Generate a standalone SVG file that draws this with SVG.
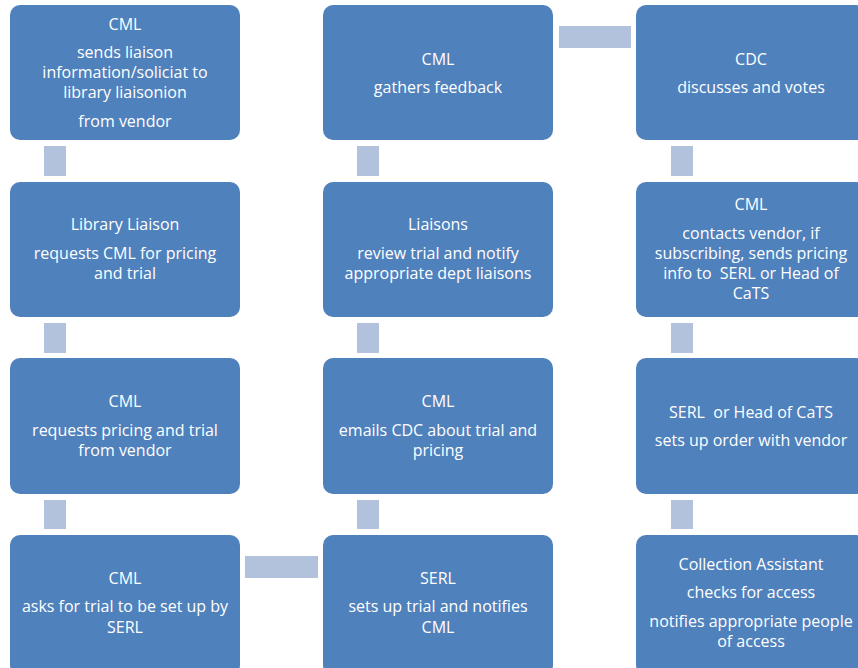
<svg xmlns="http://www.w3.org/2000/svg" width="858" height="668" viewBox="0 0 858 668">
<style>
.box{fill:#4F81BD;}
.con{fill:#B3C2DC;}
text{font-family:"Open Sans","Liberation Sans",sans-serif;font-size:16px;fill:#FFFFFF;text-anchor:middle;}
</style>
<rect width="858" height="668" fill="#FFFFFF"/>
<g id="connectors">
<rect class="con" x="44" y="146" width="22" height="30"/>
<rect class="con" x="44" y="323" width="22" height="30"/>
<rect class="con" x="44" y="500" width="22" height="29"/>
<rect class="con" x="245" y="556" width="73" height="22"/>
<rect class="con" x="357" y="500" width="22" height="29"/>
<rect class="con" x="357" y="323" width="22" height="30"/>
<rect class="con" x="357" y="146" width="22" height="30"/>
<rect class="con" x="559" y="26" width="72" height="22"/>
<rect class="con" x="671" y="146" width="22" height="30"/>
<rect class="con" x="671" y="323" width="22" height="30"/>
<rect class="con" x="671" y="500" width="22" height="29"/>
</g>
<g id="n1">
<rect class="box" x="10" y="5" width="230" height="135" rx="10"/>
<text x="125" y="30">CML</text>
<text x="125" y="58">sends liaison</text>
<text x="125" y="78">information/soliciat to</text>
<text x="125" y="98">library liaisonion</text>
<text x="125" y="127">from vendor</text>
</g>
<g id="n2">
<rect class="box" x="10" y="182" width="230" height="135" rx="10"/>
<text x="125" y="230">Library Liaison</text>
<text x="125" y="259">requests CML for pricing</text>
<text x="125" y="279">and trial</text>
</g>
<g id="n3">
<rect class="box" x="10" y="358" width="230" height="136" rx="10"/>
<text x="125" y="407">CML</text>
<text x="125" y="436">requests pricing and trial</text>
<text x="125" y="456">from vendor</text>
</g>
<g id="n4">
<rect class="box" x="10" y="535" width="230" height="140" rx="10"/>
<text x="125" y="584">CML</text>
<text x="125" y="612">asks for trial to be set up by</text>
<text x="125" y="633">SERL</text>
</g>
<g id="n5">
<rect class="box" x="323" y="535" width="230" height="140" rx="10"/>
<text x="438" y="584">SERL</text>
<text x="438" y="612">sets up trial and notifies</text>
<text x="438" y="633">CML</text>
</g>
<g id="n6">
<rect class="box" x="323" y="358" width="230" height="136" rx="10"/>
<text x="438" y="407">CML</text>
<text x="438" y="436">emails CDC about trial and</text>
<text x="438" y="456">pricing</text>
</g>
<g id="n7">
<rect class="box" x="323" y="182" width="230" height="135" rx="10"/>
<text x="438" y="230">Liaisons</text>
<text x="438" y="259">review trial and notify</text>
<text x="438" y="279">appropriate dept liaisons</text>
</g>
<g id="n8">
<rect class="box" x="323" y="5" width="230" height="135" rx="10"/>
<text x="438" y="65">CML</text>
<text x="438" y="93">gathers feedback</text>
</g>
<g id="n9">
<rect class="box" x="636" y="5" width="230" height="135" rx="10"/>
<text x="751" y="65">CDC</text>
<text x="751" y="93">discusses and votes</text>
</g>
<g id="n10">
<rect class="box" x="636" y="182" width="230" height="135" rx="10"/>
<text x="751" y="210">CML</text>
<text x="751" y="239">contacts vendor, if</text>
<text x="751" y="259">subscribing, sends pricing</text>
<text x="751" y="279" xml:space="preserve">info to  SERL or Head of</text>
<text x="751" y="299">CaTS</text>
</g>
<g id="n11">
<rect class="box" x="636" y="358" width="230" height="136" rx="10"/>
<text x="751" y="418" xml:space="preserve">SERL  or Head of CaTS</text>
<text x="751" y="446">sets up order with vendor</text>
</g>
<g id="n12">
<rect class="box" x="636" y="535" width="230" height="140" rx="10"/>
<text x="751" y="570">Collection Assistant</text>
<text x="751" y="598">checks for access</text>
<text x="751" y="627">notifies appropriate people</text>
<text x="751" y="647">of access</text>
</g>
</svg>
